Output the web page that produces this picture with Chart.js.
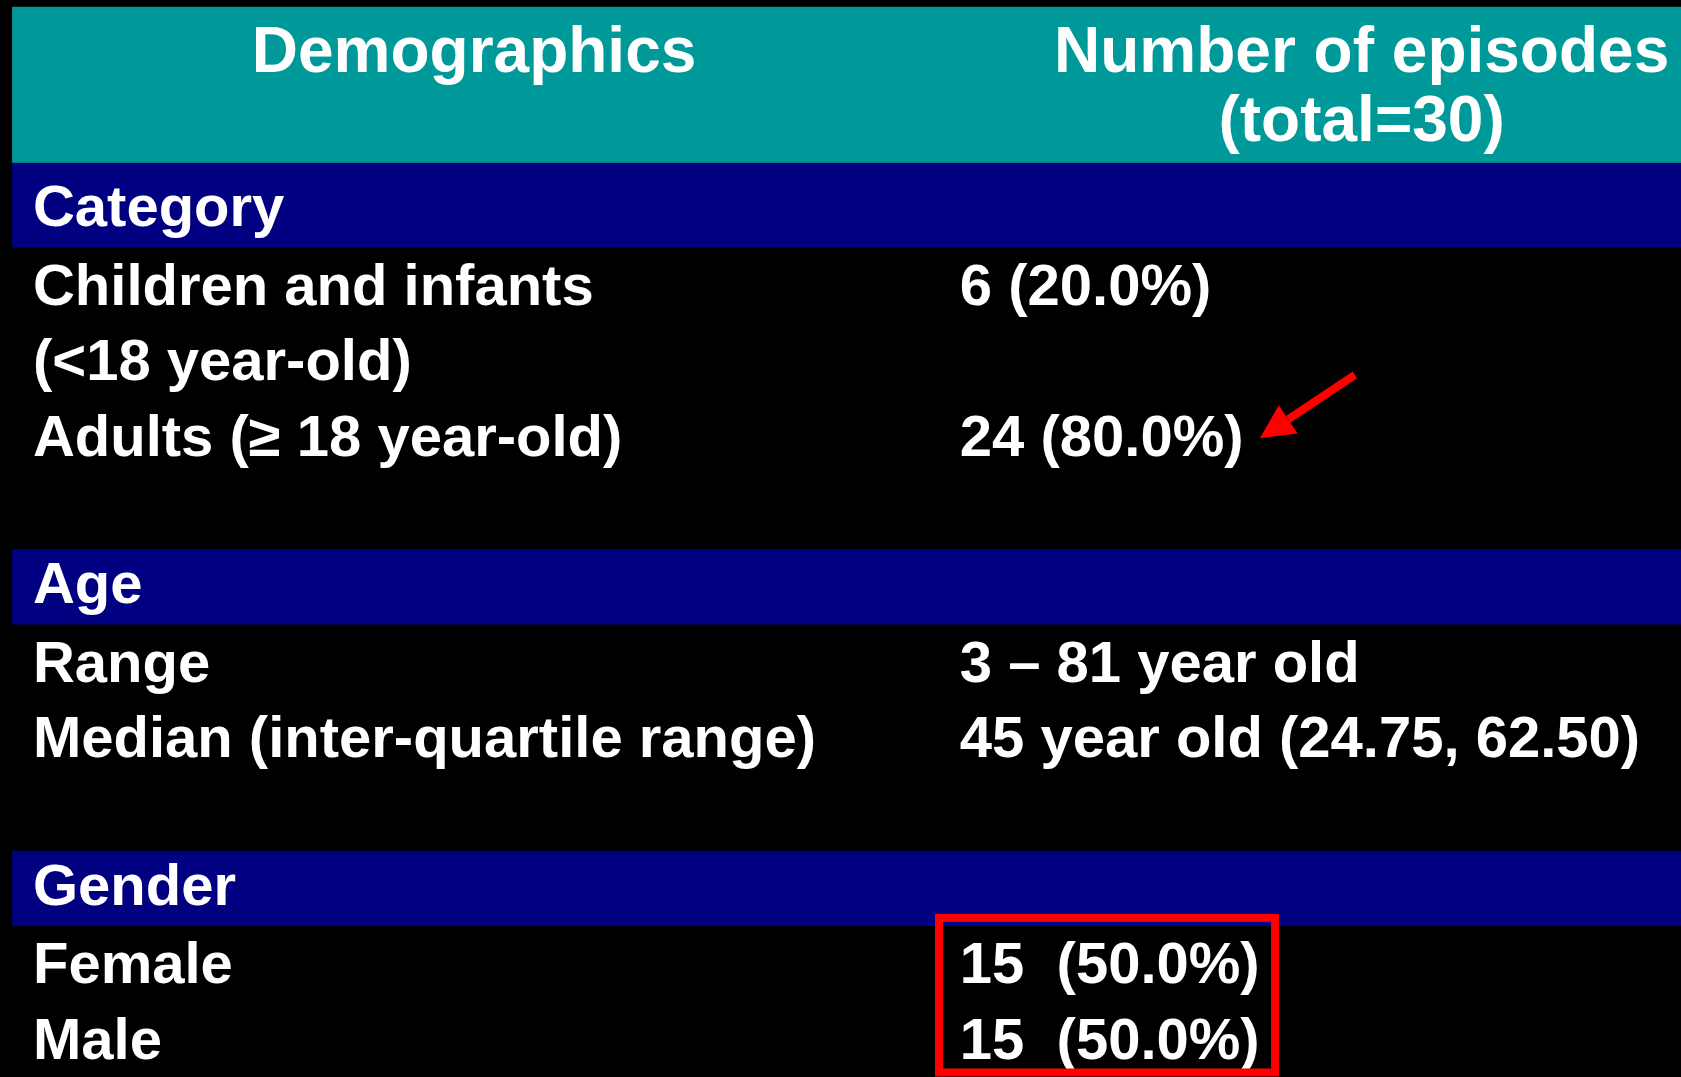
<!DOCTYPE html>
<html>
<head>
<meta charset="utf-8">
<script src="https://cdn.jsdelivr.net/npm/chart.js@4/dist/chart.umd.min.js"></script>
<style>
  html, body { margin: 0; padding: 0; background: #000; }
  canvas { display: block; }
</style>
</head>
<body>
<canvas id="myChart" width="1681" height="1077"></canvas>
<script>
// table content
const headLeft = "Demographics";
const headRight = ["Number of episodes", "(total=30)"];
const sectionNames = ["Category", "Age", "Gender"];
const itemLabels = [
  "Children and infants",
  "(<18 year-old)",
  "Adults (\u2265 18 year-old)",
  "Range",
  "Median (inter-quartile range)",
  "Female",
  "Male",
];
const itemValues = [
  "6 (20.0%)",
  "",
  "24 (80.0%)",
  "3 \u2013 81 year old",
  "45 year old (24.75, 62.50)",
  "15  (50.0%)",
  "15  (50.0%)",
];
const itemSection = [0, 0, 0, 1, 1, 2, 2];

// build row list: header takes rows 0-1, then section row, items, blank row
const rows = [];
let r = 2;
sectionNames.forEach((name, s) => {
  rows.push({ row: r++, kind: "section", label: name, value: "", sec: s });
  itemLabels.forEach((lab, i) => {
    if (itemSection[i] === s) rows.push({ row: r++, kind: "item", label: lab, value: itemValues[i], idx: i });
  });
  r++; // blank row
});

const TEAL = "#009999";
const NAVY = "#000080";
const RED = "#ff0000";
const FONT = '"Liberation Sans", Arial, Helvetica, sans-serif';

// column positions on the x scale (0-100)
const colLeft = 1.96;
const colRight = 57.1;
const bandStart = 0.72;
const headLeftCenter = 28.2;
const headRightCenter = 81.0;
const headTop = -0.19;
const headBottom = 1.88;

const tablePlugin = {
  id: "tableDraw",
  beforeDatasetsDraw(chart) {
    const ctx = chart.ctx;
    const xs = chart.scales.x;
    const ys = chart.scales.y;
    const X = (v) => xs.getPixelForValue(v);
    const Y = (v) => ys.getPixelForValue(v);

    ctx.save();
    // header band
    ctx.fillStyle = TEAL;
    ctx.fillRect(X(bandStart), Y(headTop), X(100) - X(bandStart), Y(headBottom) - Y(headTop));

    // section bands (first one meets the header)
    ctx.fillStyle = NAVY;
    rows.filter((d) => d.kind === "section").forEach((d) => {
      const top = d.sec === 0 ? headBottom : d.row;
      ctx.fillRect(X(bandStart), Y(top), X(100) - X(bandStart), Y(d.row + 1) - Y(top));
    });

    ctx.fillStyle = "#ffffff";
    ctx.textBaseline = "alphabetic";

    // header text
    ctx.font = "bold 64px " + FONT;
    ctx.textAlign = "center";
    ctx.fillText(headLeft, X(headLeftCenter), Y(0.68));
    ctx.fillText(headRight[0], X(headRightCenter), Y(0.68));
    ctx.fillText(headRight[1], X(headRightCenter), Y(1.59));

    // body rows
    ctx.font = "bold 58px " + FONT;
    ctx.textAlign = "left";
    rows.forEach((d) => {
      const yb = Y(d.row + (d.kind === "section" ? 0.72 : 0.76));
      ctx.fillText(d.label, X(colLeft), yb);
      if (d.value) ctx.fillText(d.value, X(colRight), yb);
    });

    // red arrow pointing at adults value
    const tip = { x: X(74.95), y: Y(5.53) };
    const tail = { x: X(80.6), y: Y(4.69) };
    const ang = Math.atan2(tip.y - tail.y, tip.x - tail.x);
    const headLen = 34, headW = 17;
    const bx = tip.x - headLen * Math.cos(ang);
    const by = tip.y - headLen * Math.sin(ang);
    ctx.strokeStyle = RED;
    ctx.fillStyle = RED;
    ctx.lineWidth = 8;
    ctx.beginPath();
    ctx.moveTo(tail.x, tail.y);
    ctx.lineTo(bx, by);
    ctx.stroke();
    ctx.beginPath();
    ctx.moveTo(tip.x, tip.y);
    ctx.lineTo(bx + headW * Math.sin(ang), by - headW * Math.cos(ang));
    ctx.lineTo(bx - headW * Math.sin(ang), by + headW * Math.cos(ang));
    ctx.closePath();
    ctx.fill();

    // red box round gender values
    const g = rows.filter((d) => d.kind === "item" && itemSection[d.idx] === 2);
    const y0 = g[0].row - 0.11;
    const y1 = g[g.length - 1].row + 0.94;
    ctx.lineWidth = 8;
    ctx.strokeRect(X(55.86), Y(y0), X(75.85) - X(55.86), Y(y1) - Y(y0));
    ctx.restore();
  },
};

const ctx1 = document.getElementById("myChart").getContext("2d");
const myChart = new Chart(ctx1, {
  type: "scatter",
  data: { datasets: [{ data: [], showLine: false }] },
  options: {
    responsive: false,
    animation: false,
    layout: { padding: 0 },
    scales: {
      x: { type: "linear", min: 0, max: 100, display: false },
      y: { type: "linear", min: -0.28, max: 14, reverse: true, display: false },
    },
    plugins: {
      legend: { display: false },
      tooltip: { enabled: false },
    },
  },
  plugins: [tablePlugin],
});
</script>
</body>
</html>
